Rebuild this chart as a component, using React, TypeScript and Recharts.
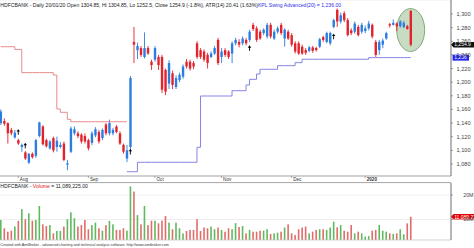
import React from 'react';
import {
  ComposedChart,
  BarChart,
  Bar,
  Line,
  XAxis,
  YAxis,
  CartesianGrid,
  ReferenceDot,
  ReferenceArea,
  ReferenceLine,
} from 'recharts';

const FONT = '"Liberation Sans", Arial, Helvetica, sans-serif';

// ---------- categories (trading days) ----------
const JUL_2019 = [25, 26, 29, 30, 31];
const AUG_2019 = [1, 2, 5, 6, 7, 8, 9, 13, 14, 16, 19, 20, 21, 22, 23, 26, 27, 28, 29, 30];
const SEP_2019 = [3, 4, 5, 6, 9, 11, 12, 13, 16, 17, 18, 19, 20, 23, 24, 25, 26, 27, 30];
const OCT_2019 = [1, 3, 4, 7, 9, 10, 11, 14, 15, 16, 17, 18, 22, 23, 24, 25, 29, 30, 31];
const NOV_2019 = [1, 4, 5, 6, 7, 8, 11, 13, 14, 15, 18, 19, 20, 21, 22, 25, 26, 27, 28, 29];
const DEC_2019 = [2, 3, 4, 5, 6, 9, 10, 11, 12, 13, 16, 17, 18, 19, 20, 23, 24, 26, 27, 30, 31];
const JAN_2020 = [1, 2, 3, 6, 7, 8, 9, 10, 13, 14, 15, 16, 17, 20];
const MONTH_TICK_LABELS = ['Aug', 'Sep', 'Oct', 'Nov', 'Dec', '2020'];
const EMPTY_SLOTS = 11;

// ---------- series ----------
const opens = [
  1140, 1143, 1140, 1130, 1119, 1115, 1105, 1097, 1082, 1095,
  1092, 1121, 1135, 1115, 1103, 1118, 1105, 1105, 1110, 1079,
  1098, 1125, 1125, 1123, 1121, 1115, 1111, 1122, 1127, 1118,
  1138, 1125, 1125, 1135, 1125, 1108, 1088, 1105, 1259, 1247,
  1250, 1237, 1250, 1230, 1233, 1237, 1237, 1218, 1198, 1213,
  1193, 1203, 1208, 1230, 1230, 1228, 1257, 1247, 1245, 1240,
  1237, 1242, 1262, 1237, 1247, 1245, 1242, 1257, 1259, 1257,
  1262, 1262, 1284, 1279, 1274, 1272, 1267, 1284, 1264, 1274,
  1284, 1264, 1274, 1269, 1257, 1257, 1252, 1247, 1246, 1251,
  1250, 1252, 1266, 1259, 1257, 1281, 1306, 1289, 1301, 1291,
  1276, 1274, 1281, 1274, 1275, 1279, 1284, 1259, 1247, 1255,
  1264, 1285, 1284, 1286, 1282, 1281, 1282, 1304.85,
];
const highs = [
  1160, 1147, 1141, 1133, 1130, 1117, 1110, 1099, 1096, 1097,
  1117, 1142, 1137, 1117, 1115, 1120, 1120, 1112, 1113, 1086,
  1135, 1135, 1128, 1125, 1125, 1117, 1128, 1134, 1130, 1132,
  1140, 1145, 1133, 1137, 1128, 1110, 1108, 1209, 1281, 1258,
  1253, 1273, 1253, 1233, 1253, 1240, 1240, 1220, 1232, 1217,
  1210, 1214, 1226, 1234, 1233, 1231, 1260, 1250, 1248, 1243,
  1245, 1253, 1265, 1250, 1250, 1247, 1260, 1265, 1263, 1267,
  1265, 1277, 1287, 1282, 1277, 1279, 1287, 1287, 1277, 1282,
  1287, 1279, 1277, 1272, 1260, 1260, 1255, 1250, 1253, 1253,
  1252, 1265, 1268, 1274, 1274, 1293, 1308, 1302, 1304, 1294,
  1279, 1289, 1284, 1287, 1283, 1290, 1286, 1262, 1262, 1264,
  1274, 1287, 1292, 1288, 1291, 1290, 1284, 1304.85,
];
const lows = [
  1137, 1136, 1110, 1122, 1117, 1108, 1098, 1086, 1080, 1088,
  1089, 1119, 1107, 1104, 1101, 1097, 1098, 1103, 1084, 1071,
  1096, 1122, 1118, 1110, 1110, 1100, 1108, 1119, 1110, 1115,
  1122, 1122, 1122, 1125, 1108, 1095, 1083, 1100, 1228, 1234,
  1237, 1235, 1240, 1218, 1230, 1218, 1184, 1181, 1190, 1190,
  1190, 1200, 1205, 1220, 1217, 1219, 1234, 1234, 1230, 1220,
  1235, 1240, 1225, 1228, 1237, 1234, 1228, 1254, 1251, 1254,
  1254, 1259, 1275, 1259, 1262, 1269, 1264, 1264, 1262, 1271,
  1269, 1252, 1262, 1252, 1242, 1240, 1240, 1240, 1244, 1243,
  1245, 1250, 1259, 1257, 1254, 1279, 1281, 1286, 1288, 1267,
  1269, 1271, 1267, 1271, 1272, 1276, 1264, 1237, 1240, 1250,
  1262, 1280, 1283, 1275, 1280, 1279, 1277, 1252.5,
];
const closes = [
  1157, 1139, 1125, 1125, 1126, 1110, 1108, 1088, 1095, 1090,
  1115, 1141, 1109, 1106, 1113, 1100, 1114, 1108, 1086, 1081,
  1132, 1131, 1121, 1113, 1113, 1103, 1125, 1131, 1113, 1130,
  1125, 1140, 1130, 1127, 1110, 1098, 1100, 1206, 1255, 1253,
  1240, 1250, 1242, 1225, 1250, 1225, 1189, 1186, 1228, 1196,
  1206, 1211, 1223, 1223, 1220, 1223, 1237, 1237, 1233, 1228,
  1242, 1250, 1228, 1245, 1240, 1237, 1257, 1262, 1255, 1264,
  1257, 1274, 1278, 1262, 1264, 1277, 1284, 1267, 1274, 1279,
  1272, 1277, 1264, 1255, 1245, 1242, 1242, 1243, 1251, 1246,
  1247, 1263, 1262, 1272, 1272, 1291, 1289, 1298, 1291, 1269,
  1272, 1286, 1269, 1284, 1279, 1286, 1267, 1240, 1259, 1261,
  1272, 1283, 1287, 1282, 1289, 1287, 1278, 1254.9,
];
// volume in millions of shares
const volumes = [
  9.8, 6.4, 5.0, 5.4, 7.1, 9.4, 14.2, 10.1, 12.5, 9.5,
  9.8, 15.5, 8.0, 7.3, 7.7, 4.3, 5.3, 5.3, 7.1, 10.1,
  12.9, 10.5, 7.1, 7.7, 9.8, 6.0, 7.7, 8.7, 6.4, 5.4,
  7.7, 9.4, 8.0, 5.7, 5.7, 6.4, 5.4, 23.5, 21.4, 11.8,
  8.0, 15.5, 7.7, 9.5, 9.5, 8.4, 9.5, 11.4, 8.7, 6.0,
  8.7, 6.4, 4.3, 5.3, 5.7, 5.7, 10.1, 5.3, 6.7, 6.4,
  7.1, 6.0, 6.7, 5.7, 5.0, 6.4, 6.0, 8.5, 6.9, 7.3,
  4.3, 5.7, 5.0, 5.0, 5.4, 5.4, 6.0, 4.1, 4.3, 4.6,
  5.0, 6.7, 8.0, 4.3, 3.6, 6.0, 6.7, 7.1, 4.3, 5.0,
  5.7, 6.0, 6.0, 5.7, 6.7, 9.1, 6.8, 7.7, 5.4, 5.0,
  7.7, 4.3, 5.0, 4.3, 3.0, 3.2, 5.4, 5.7, 7.7, 5.4,
  5.0, 4.3, 4.1, 4.3, 6.0, 3.9, 8.4, 11.089225,
];
// trailing stop above price (bars 0..36)
const redStop = [
  1252, 1252, 1252, 1252, 1248, 1248, 1214, 1214, 1214, 1214,
  1214, 1214, 1214, 1214, 1214, 1210.5, 1160.7, 1155.8, 1155.8, 1145.5,
  1142, 1142, 1142, 1142, 1142, 1142, 1142, 1142, 1142, 1142,
  1142, 1142, 1142, 1142, 1142, 1142, 1142,
];
// KPL Swing Advanced(20) stop below price (bars 36..117)
const BLUE_START = 36;
const blueStop = [
  1068.7, 1068.7, 1068.7,
  1082.5, 1082.5, 1082.5, 1082.5, 1082.5, 1082.5, 1082.5, 1082.5, 1082.5,
  1082.5, 1082.5, 1082.5, 1082.5, 1082.5, 1082.5, 1082.5, 1082.5,
  1104.5,
  1179.7, 1179.7, 1179.7, 1179.7, 1179.7, 1179.7, 1179.7, 1179.7, 1179.7,
  1187.5, 1187.5, 1187.5, 1187.5,
  1195.9,
  1204.2, 1204.2,
  1212,
  1218.9, 1218.9, 1218.9, 1218.9, 1218.9,
  1224.2, 1224.2, 1224.2, 1224.2, 1224.2,
  1228.6, 1228.6,
  1233.6, 1233.6, 1233.6, 1233.6, 1233.6, 1233.6, 1233.6, 1233.6, 1233.6, 1233.6,
  1233.6, 1233.6, 1233.6, 1233.6, 1233.6, 1233.6, 1233.6, 1233.6, 1233.6,
  1236, 1236, 1236, 1236, 1236, 1236, 1236, 1236, 1236, 1236, 1236, 1236, 1236,
];
// buy-signal arrows
const signalBars = [5, 7, 37, 71, 95];
const signalPrices = [1127, 1107, 1098, 1250, 1267];
// highlight ellipse around last bar
const HIGHLIGHT_LOW = 1245;
const HIGHLIGHT_HIGH = 1308;

const PRICE_TICKS = [1080, 1100, 1120, 1140, 1160, 1180, 1200, 1220, 1240, 1260, 1280, 1300];
const PRICE_DOMAIN = [1062.4, 1320.5];
const VOL_TICKS = [5, 10, 15, 20];
const VOL_DOMAIN = [1.6, 24.9];

// ---------- colours ----------
const UP = '#2b7de0';
const DOWN = '#e3232b';
const VOL_UP = '#5fba5f';
const VOL_DOWN = '#e36b6b';
const GRID = '#e6e6e6';

// ---------- table ----------
const pad2 = (n: number) => (n < 10 ? '0' + n : '' + n);
const MONTHS: [string, number[]][] = [
  ['2019-07', JUL_2019],
  ['2019-08', AUG_2019],
  ['2019-09', SEP_2019],
  ['2019-10', OCT_2019],
  ['2019-11', NOV_2019],
  ['2019-12', DEC_2019],
  ['2020-01', JAN_2020],
];
const dates: string[] = [];
MONTHS.forEach(([ym, days]) => days.forEach((d) => dates.push(`${ym}-${pad2(d)}`)));
const monthTicks = MONTHS.slice(1).map(([ym, days]) => `${ym}-${pad2(days[0])}`);
const tickLabelOf: Record<string, string> = {};
monthTicks.forEach((t, i) => (tickLabelOf[t] = MONTH_TICK_LABELS[i]));

type Row = {
  date: string;
  open: number | null;
  high: number | null;
  low: number | null;
  close: number | null;
  vol: number | null;
  red: number | null;
  blue: number | null;
};
const rows: Row[] = dates.map((date, i) => ({
  date,
  open: opens[i],
  high: highs[i],
  low: lows[i],
  close: closes[i],
  vol: volumes[i],
  red: i < redStop.length ? redStop[i] : null,
  blue: i >= BLUE_START ? blueStop[i - BLUE_START] : null,
}));
for (let k = 0; k < EMPTY_SLOTS; k++) {
  rows.push({ date: `pad-${k}`, open: null, high: null, low: null, close: null, vol: null, red: null, blue: null });
}
const LAST = dates.length - 1;
const lastDate = dates[LAST];
const lastClose = closes[LAST];
const lastStop = blueStop[blueStop.length - 1];
const lastVol = volumes[LAST];

const rangeKey = (d: Row) => (d.high == null || d.low == null ? null : [d.low, d.high]);
const fmtPrice = (v: number) => v.toLocaleString('en-US');

// ---------- shapes ----------
const Candle = (props: any) => {
  const { x, y, width, height, payload } = props;
  if (!payload || payload.high == null) return <g />;
  const { open, close, high, low } = payload;
  const top = Math.min(y, y + height);
  const bot = Math.max(y, y + height);
  const span = high - low;
  const py = (v: number) => (span === 0 ? top : top + ((high - v) / span) * (bot - top));
  const cx = x + width / 2;
  const color = close >= open ? UP : DOWN;
  const bTop = py(Math.max(open, close));
  const bBot = py(Math.min(open, close));
  return (
    <g>
      <line x1={cx} x2={cx} y1={top} y2={bot} stroke={color} strokeWidth={0.9} />
      <rect x={cx - 1.2} y={bTop} width={2.4} height={Math.max(0.8, bBot - bTop)} fill={color} />
    </g>
  );
};

const NoShape = () => <g />;

const EllipseShape = (props: any) => {
  const { x, y, width, height } = props;
  return (
    <ellipse
      cx={x + width / 2}
      cy={y + height / 2}
      rx={14}
      ry={Math.abs(height) / 2}
      fill="#c8dcc3"
      stroke="#6e9566"
      strokeWidth={0.8}
    />
  );
};

const ArrowShape = (props: any) => {
  const { cx, cy } = props;
  return (
    <g>
      <line x1={cx} x2={cx} y1={cy - 1.5} y2={cy + 2.8} stroke="#000" strokeWidth={0.9} />
      <polygon points={`${cx - 1.7},${cy - 0.4} ${cx + 1.7},${cy - 0.4} ${cx},${cy - 2.8}`} fill="#000" />
    </g>
  );
};

const VolBar = (props: any) => {
  const { x, y, width, height, payload } = props;
  if (!payload || payload.vol == null) return <g />;
  const color = payload.close >= payload.open ? VOL_UP : VOL_DOWN;
  return <rect x={x} y={y} width={width} height={Math.max(0, height)} fill={color} />;
};

const MonthTick = (props: any) => {
  const { x, y, payload } = props;
  const label = tickLabelOf[payload.value] || '';
  return (
    <g>
      <line x1={x} x2={x} y1={y} y2={y + 2} stroke="#777" strokeWidth={0.6} />
      <text
        x={x + 1.6}
        y={y + 4.6}
        fontSize={4.6}
        fill="#333"
        fontFamily={FONT}
        fontWeight={label === '2020' ? 'bold' : 'normal'}
      >
        {label}
      </text>
    </g>
  );
};

const VolTick = (props: any) => {
  const { y, payload } = props;
  return (
    <text x={473.5} y={y} dy="0.35em" fontSize={5.3} fill="#444" textAnchor="end" fontFamily={FONT}>
      {`${payload.value}M`}
    </text>
  );
};

const pointerTag = (fill: string, text: string) => (p: any) => {
  const vb = p.viewBox || {};
  const r = (vb.x || 0) + (vb.width || 0);
  const y = vb.y || 0;
  return (
    <g>
      <polygon
        points={`${r},${y} ${r + 2.6},${y - 2.8} ${r + 24},${y - 2.8} ${r + 24},${y + 2.8} ${r + 2.6},${y + 2.8}`}
        fill={fill}
      />
      <text x={r + 3.2} y={y} dy="0.35em" fontSize={5} fill="#fff" fontFamily={FONT}>
        {text}
      </text>
    </g>
  );
};

const boxTag = (fill: string, text: string) => (p: any) => {
  const vb = p.viewBox || {};
  const r = (vb.x || 0) + (vb.width || 0);
  const y = vb.y || 0;
  return (
    <g>
      <rect x={r + 1.6} y={y - 3} width={16.4} height={6} fill={fill} />
      <text x={r + 3.2} y={y} dy="0.35em" fontSize={5} fill="#fff" fontFamily={FONT}>
        {text}
      </text>
    </g>
  );
};

const W = 474;
const MAIN_H = 183;
const MARGIN = { top: 0, right: 0, bottom: 0, left: -1 };

export default function App() {
  return (
    <div
      style={{
        position: 'absolute',
        left: 0,
        top: 0,
        width: W,
        height: 248,
        background: '#fff',
        overflow: 'hidden',
        fontFamily: FONT,
      }}
    >
      {/* background layer: grid + highlight ellipse */}
      <div style={{ position: 'absolute', left: 0, top: 0 }}>
        <ComposedChart width={W} height={MAIN_H} data={rows} margin={MARGIN}>
          <CartesianGrid stroke={GRID} strokeWidth={0.7} />
          <XAxis dataKey="date" ticks={monthTicks} interval={0} tick={false} tickLine={false} axisLine={false} height={7} />
          <YAxis
            orientation="right"
            domain={PRICE_DOMAIN}
            ticks={PRICE_TICKS}
            allowDataOverflow
            width={23}
            tick={false}
            tickLine={false}
            axisLine={false}
          />
          <Bar dataKey={rangeKey} shape={NoShape} isAnimationActive={false} />
          <ReferenceArea
            x1={lastDate}
            x2={lastDate}
            y1={HIGHLIGHT_LOW}
            y2={HIGHLIGHT_HIGH}
            shape={EllipseShape}
          />
        </ComposedChart>
      </div>

      {/* foreground layer: price */}
      <div style={{ position: 'absolute', left: 0, top: 0 }}>
        <ComposedChart width={W} height={MAIN_H} data={rows} margin={MARGIN}>
          <XAxis
            dataKey="date"
            ticks={monthTicks}
            interval={0}
            tick={<MonthTick />}
            tickLine={false}
            tickSize={0}
            tickMargin={0}
            axisLine={{ stroke: '#9a9a9a', strokeWidth: 0.8 }}
            height={7}
          />
          <YAxis
            orientation="right"
            domain={PRICE_DOMAIN}
            ticks={PRICE_TICKS}
            allowDataOverflow
            width={23}
            tickFormatter={fmtPrice}
            tick={{ fontSize: 5.6, fill: '#444', fontFamily: FONT }}
            tickSize={2}
            tickMargin={3.5}
            axisLine={{ stroke: '#555', strokeWidth: 0.8 }}
            tickLine={{ stroke: '#666', strokeWidth: 0.6 }}
          />
          <Line
            dataKey="red"
            type="stepAfter"
            stroke="#e88b8b"
            strokeWidth={1}
            dot={false}
            activeDot={false}
            isAnimationActive={false}
          />
          <Line
            dataKey="blue"
            type="stepAfter"
            stroke="#8383e4"
            strokeWidth={1}
            dot={false}
            activeDot={false}
            isAnimationActive={false}
          />
          <Bar dataKey={rangeKey} shape={Candle} isAnimationActive={false} />
          {signalBars.map((b, i) => (
            <ReferenceDot key={`sig-${i}`} x={dates[b]} y={signalPrices[i]} shape={ArrowShape} />
          ))}
          <ReferenceLine y={lastClose} stroke="none" label={pointerTag('#111', fmtPrice(lastClose))} />
          <ReferenceLine y={lastStop} stroke="none" label={boxTag('#2323ee', fmtPrice(lastStop))} />
        </ComposedChart>
      </div>

      {/* volume panel */}
      <div style={{ position: 'absolute', left: 0, top: 182 }}>
        <BarChart width={W} height={60} data={rows} margin={{ top: 1, right: 0, bottom: 0, left: -1 }}>
          <CartesianGrid stroke={GRID} strokeWidth={0.7} />
          <XAxis
            dataKey="date"
            ticks={monthTicks}
            interval={0}
            tick={false}
            tickLine={false}
            axisLine={{ stroke: '#cfcfcf', strokeWidth: 0.7 }}
            height={2}
          />
          <YAxis
            orientation="right"
            domain={VOL_DOMAIN}
            ticks={VOL_TICKS}
            allowDataOverflow
            width={23}
            tick={<VolTick />}
            tickSize={2}
            axisLine={{ stroke: '#555', strokeWidth: 0.8 }}
            tickLine={{ stroke: '#666', strokeWidth: 0.6 }}
          />
          <Bar dataKey="vol" barSize={1.6} shape={VolBar} isAnimationActive={false} />
          <ReferenceLine
            y={lastVol}
            stroke="none"
            label={pointerTag('#e00000', Math.round(lastVol * 1e6).toLocaleString('en-US'))}
          />
        </BarChart>
      </div>

      {/* texts */}
      <svg width={W} height={248} style={{ position: 'absolute', left: 0, top: 0, pointerEvents: 'none' }}>
        <line x1={0} x2={451} y1={182.5} y2={182.5} stroke="#9a9a9a" strokeWidth={0.8} />
        <text x={0.3} y={6.6} fontSize={5.1} fill="#222" fontFamily={FONT}>
          HDFCBANK - Daily 20/01/20 Open 1304.85, Hi 1304.85, Lo 1252.5, Close 1254.9 (-1.8%), ATR(14) 20.41 (1.63%)
          <tspan fill="#2f2fe8">KPL Swing Advanced(20) = 1,236.00</tspan>
        </text>
        <text x={0.3} y={187.6} fontSize={5.1} fill="#222" fontFamily={FONT}>
          HDFCBANK - <tspan fill="#e02020">Volume</tspan> = 11,089,225.00
        </text>
        <text x={0.3} y={246} fontSize={3.7} fill="#333" fontFamily={FONT}>
          Created with AmiBroker - advanced charting and technical analysis software. http://www.amibroker.com
        </text>
      </svg>
    </div>
  );
}
